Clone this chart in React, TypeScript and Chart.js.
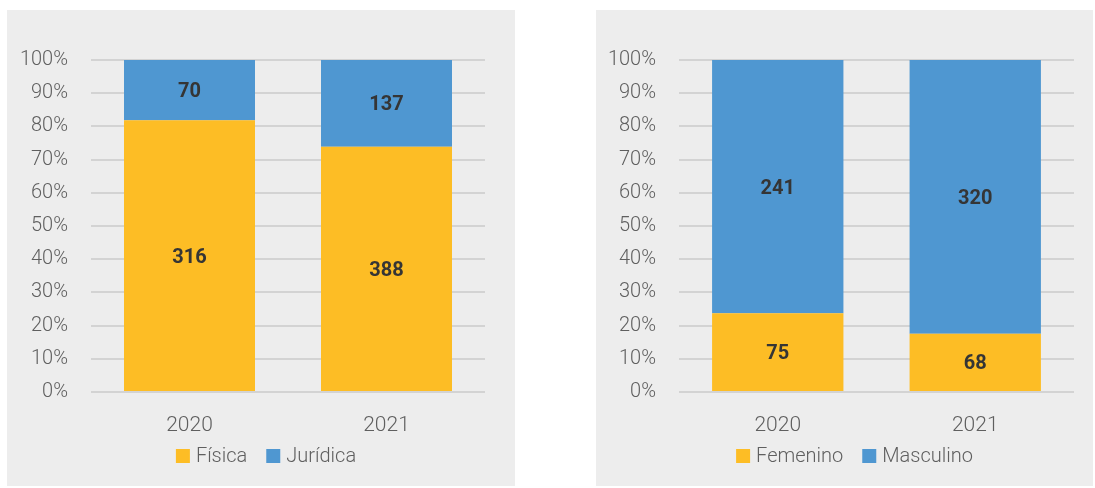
import React, { useEffect, useRef } from "react";
import { Chart, registerables } from "chart.js";

Chart.register(...registerables);

// ---- data ----
const years = ["2020", "2021"];
const tipoLabels = ["Física", "Jurídica"];
const fisica = [316, 388];
const juridica = [70, 137];
const sexoLabels = ["Femenino", "Masculino"];
const femenino = [75, 68];
const masculino = [241, 320];
const yMax = 100;
const yStep = 10;
const tickSuffix = "%";

// ---- style ----
const YELLOW = "#FDBD25";
const BLUE = "#4F97D1";
const BG = "#EDEDED";
const GRID = "#D3D3D3";
const TEXT = "#5F5F5F";
const LABEL = "#353535";
const FONT = "Roboto, 'Liberation Sans', sans-serif";
const PANEL_H = 476;

const toPct = (a: number[], b: number[]) => a.map((v, i) => (v / (v + b[i])) * 100);

const countLabels = {
  id: "countLabels",
  afterDatasetsDraw(chart: any) {
    const ctx = chart.ctx;
    ctx.save();
    ctx.font = `bold 20px ${FONT}`;
    ctx.fillStyle = LABEL;
    ctx.textAlign = "center";
    ctx.textBaseline = "middle";
    chart.data.datasets.forEach((ds: any, di: number) => {
      const meta = chart.getDatasetMeta(di);
      meta.data.forEach((el: any, i: number) => {
        const y = (el.y + el.base) / 2 + 2;
        ctx.fillText(String(ds.counts[i]), el.x, y);
      });
    });
    ctx.restore();
  },
};

const customLegend = {
  id: "customLegend",
  afterDraw(chart: any) {
    const ctx = chart.ctx;
    const box = 14;
    const gapText = 6;
    const gapItem = 19;
    ctx.save();
    ctx.font = `300 20px ${FONT}`;
    ctx.textBaseline = "middle";
    ctx.textAlign = "left";
    const items = chart.data.datasets.map((ds: any) => ({
      label: ds.label,
      color: ds.backgroundColor,
      w: box + gapText + ctx.measureText(ds.label).width,
    }));
    const total = items.reduce((s: number, it: any) => s + it.w, 0) + gapItem * (items.length - 1);
    const cx = (chart.chartArea.left + chart.chartArea.right) / 2 - 22;
    const cy = 446;
    let x = cx - total / 2;
    items.forEach((it: any) => {
      ctx.fillStyle = it.color;
      ctx.fillRect(x, cy - box / 2, box, box);
      ctx.fillStyle = TEXT;
      ctx.fillText(it.label, x + box + gapText, cy + 1);
      x += it.w + gapItem;
    });
    ctx.restore();
  },
};

function Panel(props: {
  left: number;
  width: number;
  names: string[];
  a: number[];
  b: number[];
  axisWidth: number;
  padRight: number;
}) {
  const ref = useRef<HTMLCanvasElement>(null);
  useEffect(() => {
    const pa = toPct(props.a, props.b);
    const pb = toPct(props.b, props.a);
    const chart = new Chart(ref.current!, {
      type: "bar",
      data: {
        labels: years,
        datasets: [
          { label: props.names[0], data: pa, counts: props.a, backgroundColor: YELLOW } as any,
          { label: props.names[1], data: pb, counts: props.b, backgroundColor: BLUE } as any,
        ],
      },
      options: {
        animation: false,
        responsive: false,
        maintainAspectRatio: false,
        layout: { padding: { top: 50, right: props.padRight, bottom: 0, left: 0 } },
        datasets: { bar: { barPercentage: 0.665, categoryPercentage: 1 } },
        scales: {
          x: {
            stacked: true,
            grid: { display: false },
            border: { display: false },
            ticks: { color: TEXT, font: { family: FONT, size: 21, weight: "300" as any }, padding: 13 },
            afterFit: (s: any) => { s.height = PANEL_H - 382; },
          },
          y: {
            stacked: true,
            min: 0,
            max: yMax,
            grid: { color: GRID, lineWidth: 2, drawTicks: false },
            border: { display: false },
            ticks: {
              stepSize: yStep,
              color: TEXT,
              padding: 23,
              font: { family: FONT, size: 20, weight: "300" as any },
              callback: (v: any) => v + tickSuffix,
            },
            afterFit: (s: any) => { s.width = props.axisWidth; },
          },
        },
        plugins: {
          legend: { display: false },
          tooltip: { enabled: false },
        },
      },
      plugins: [countLabels, customLegend],
    });
    return () => chart.destroy();
  }, []);
  return (
    <div
      style={{
        position: "absolute",
        left: props.left,
        top: 10,
        width: props.width,
        height: PANEL_H,
        background: BG,
      }}
    >
      <canvas ref={ref} width={props.width} height={PANEL_H} style={{ display: "block" }} />
    </div>
  );
}

export default function App() {
  return (
    <div style={{ position: "absolute", left: 0, top: 0, width: 1095, height: 488, background: "#fff" }}>
      <Panel left={7} width={508} names={tipoLabels} a={fisica} b={juridica} axisWidth={84} padRight={30} />
      <Panel left={596} width={497} names={sexoLabels} a={femenino} b={masculino} axisWidth={83} padRight={19} />
    </div>
  );
}
